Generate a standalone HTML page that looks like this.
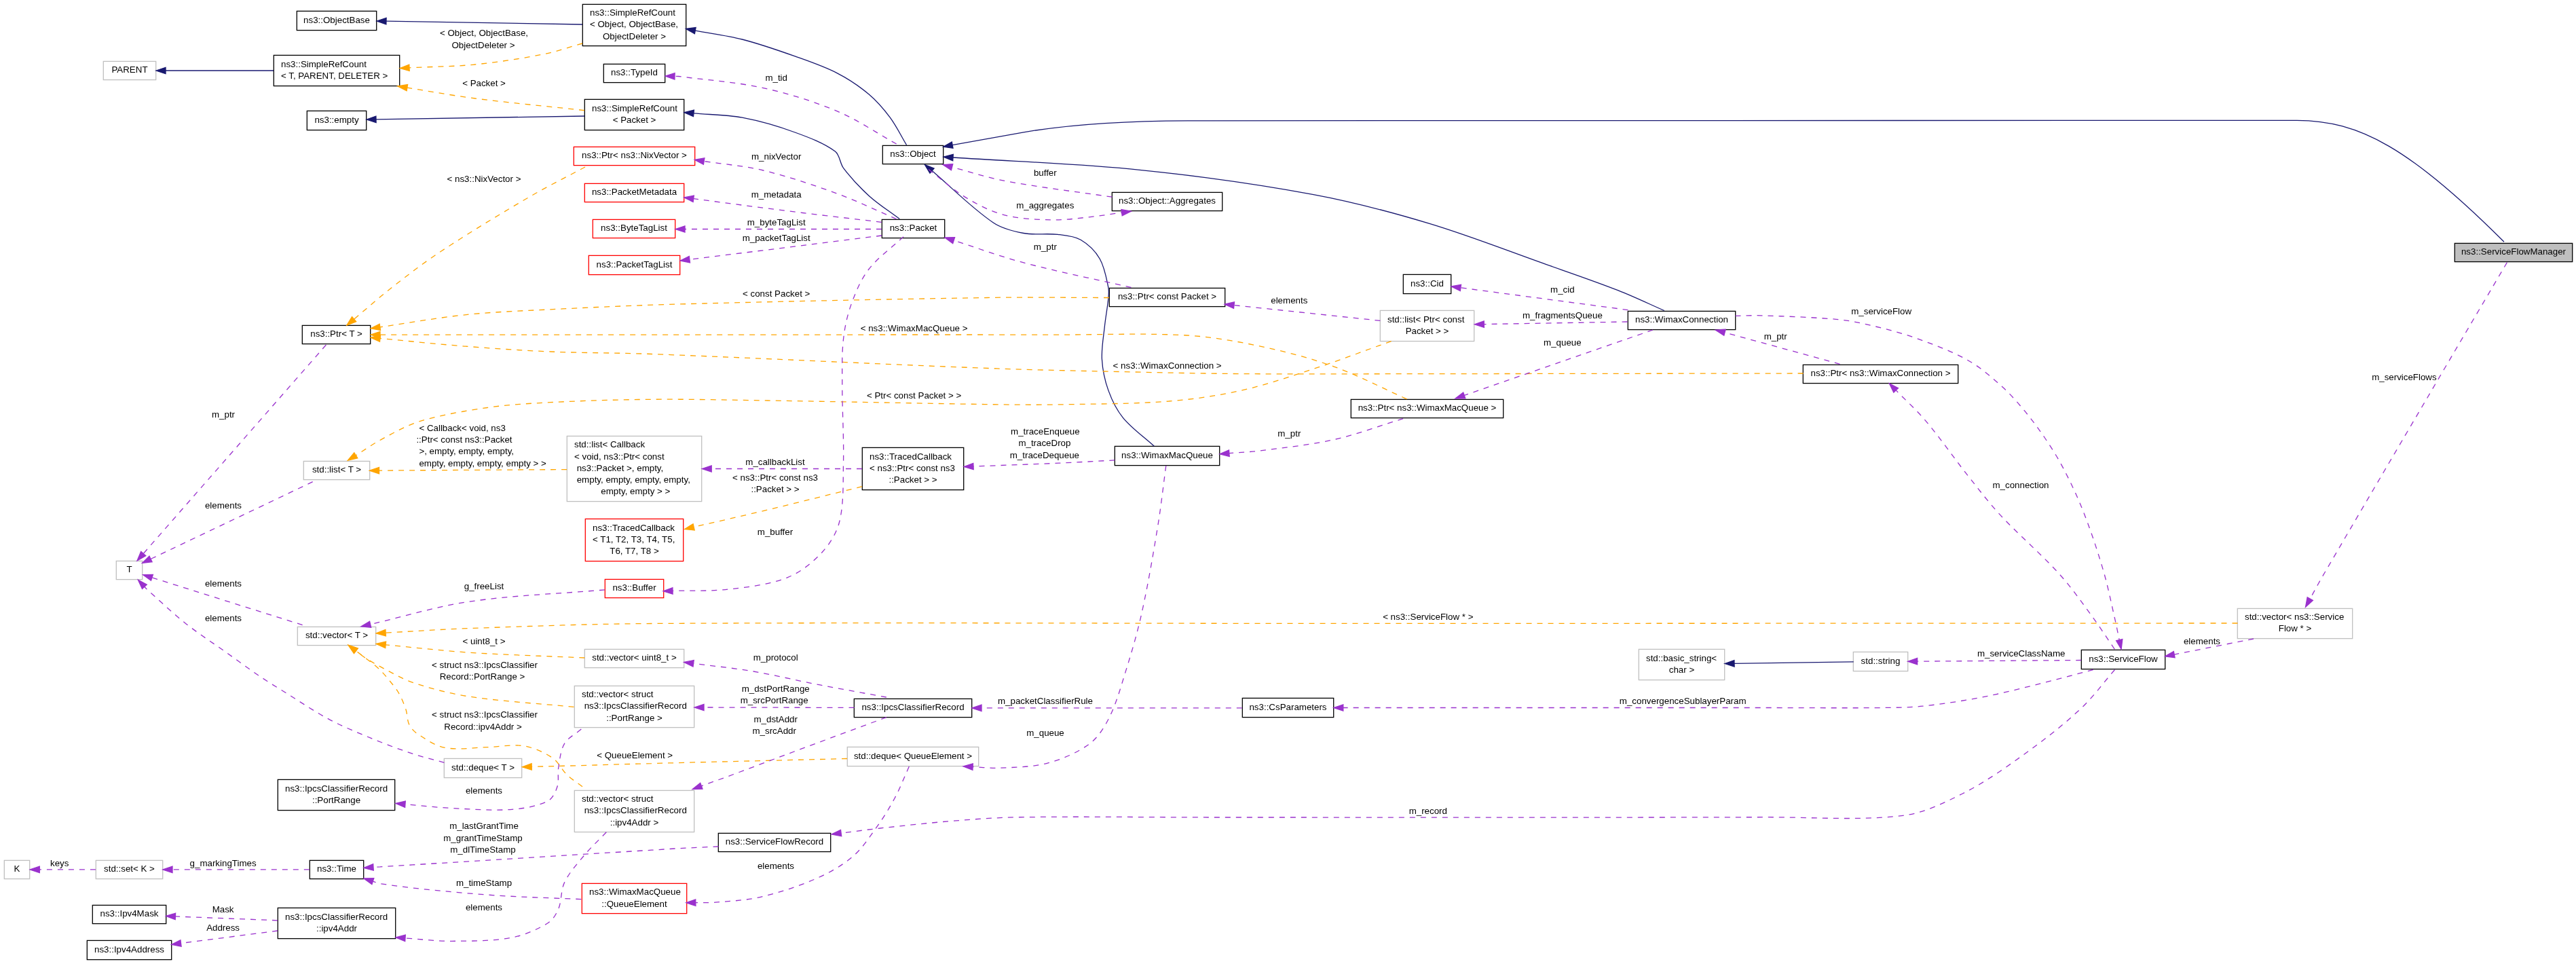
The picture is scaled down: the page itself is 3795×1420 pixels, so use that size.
<!DOCTYPE html><html><head><meta charset="utf-8"><style>html,body{margin:0;padding:0;background:#fff;width:3795px;height:1420px;overflow:hidden}svg{display:block;will-change:transform}text{font-family:"Liberation Sans",sans-serif;font-size:13.33px;fill:#000;white-space:pre}</style></head><body>
<svg width="3795" height="1420" viewBox="0 0 3795 1420">
<rect width="3795" height="1420" fill="#fff"/>
<rect x="437.3" y="16.4" width="117.4" height="28.2" fill="#fff" stroke="#000000" stroke-width="1.3"/>
<text x="496.0" y="33.8" text-anchor="middle">ns3::ObjectBase</text>
<rect x="152.3" y="90.4" width="77.4" height="27.2" fill="#fff" stroke="#bfbfbf" stroke-width="1.3"/>
<text x="191.0" y="107.3" text-anchor="middle">PARENT</text>
<rect x="403.3" y="81.4" width="185.4" height="45.2" fill="#fff" stroke="#000000" stroke-width="1.3"/>
<text x="414.0" y="98.6">ns3::SimpleRefCount</text>
<text x="414.0" y="116.0">&lt; T, PARENT, DELETER &gt;</text>
<rect x="452.3" y="163.4" width="87.4" height="28.2" fill="#fff" stroke="#000000" stroke-width="1.3"/>
<text x="496.0" y="180.8" text-anchor="middle">ns3::empty</text>
<rect x="858.3" y="6.4" width="152.4" height="61.2" fill="#fff" stroke="#000000" stroke-width="1.3"/>
<text x="869.0" y="23.0">ns3::SimpleRefCount</text>
<text x="869.0" y="40.3">&lt; Object, ObjectBase,</text>
<text x="934.5" y="57.6" text-anchor="middle">ObjectDeleter &gt;</text>
<rect x="889.3" y="94.4" width="90.4" height="27.2" fill="#fff" stroke="#000000" stroke-width="1.3"/>
<text x="934.5" y="111.3" text-anchor="middle">ns3::TypeId</text>
<rect x="861.3" y="146.4" width="146.4" height="45.2" fill="#fff" stroke="#000000" stroke-width="1.3"/>
<text x="872.0" y="163.7">ns3::SimpleRefCount</text>
<text x="934.5" y="181.0" text-anchor="middle">&lt; Packet &gt;</text>
<rect x="845.3" y="216.4" width="178.4" height="27.2" fill="#fff" stroke="#ff0000" stroke-width="1.3"/>
<text x="934.5" y="233.3" text-anchor="middle">ns3::Ptr&lt; ns3::NixVector &gt;</text>
<rect x="861.3" y="270.4" width="146.4" height="27.2" fill="#fff" stroke="#ff0000" stroke-width="1.3"/>
<text x="934.5" y="287.3" text-anchor="middle">ns3::PacketMetadata</text>
<rect x="873.3" y="323.4" width="121.4" height="27.2" fill="#fff" stroke="#ff0000" stroke-width="1.3"/>
<text x="934.0" y="340.3" text-anchor="middle">ns3::ByteTagList</text>
<rect x="867.3" y="376.4" width="134.4" height="28.2" fill="#fff" stroke="#ff0000" stroke-width="1.3"/>
<text x="934.5" y="393.8" text-anchor="middle">ns3::PacketTagList</text>
<rect x="1300.3" y="214.4" width="89.4" height="27.2" fill="#fff" stroke="#000000" stroke-width="1.3"/>
<text x="1345.0" y="231.3" text-anchor="middle">ns3::Object</text>
<rect x="1299.3" y="323.4" width="92.4" height="27.2" fill="#fff" stroke="#000000" stroke-width="1.3"/>
<text x="1345.5" y="340.3" text-anchor="middle">ns3::Packet</text>
<rect x="1638.3" y="283.4" width="162.4" height="27.2" fill="#fff" stroke="#000000" stroke-width="1.3"/>
<text x="1719.5" y="300.3" text-anchor="middle">ns3::Object::Aggregates</text>
<rect x="1634.3" y="424.4" width="170.4" height="27.2" fill="#fff" stroke="#000000" stroke-width="1.3"/>
<text x="1719.5" y="441.3" text-anchor="middle">ns3::Ptr&lt; const Packet &gt;</text>
<rect x="2067.3" y="404.4" width="70.4" height="28.2" fill="#fff" stroke="#000000" stroke-width="1.3"/>
<text x="2102.5" y="421.8" text-anchor="middle">ns3::Cid</text>
<rect x="2033.3" y="457.4" width="138.4" height="45.2" fill="#fff" stroke="#bfbfbf" stroke-width="1.3"/>
<text x="2044.0" y="474.7">std::list&lt; Ptr&lt; const</text>
<text x="2102.5" y="491.9" text-anchor="middle">Packet &gt; &gt;</text>
<rect x="2398.3" y="458.4" width="158.4" height="27.2" fill="#fff" stroke="#000000" stroke-width="1.3"/>
<text x="2477.5" y="475.3" text-anchor="middle">ns3::WimaxConnection</text>
<rect x="1990.3" y="588.4" width="224.4" height="27.2" fill="#fff" stroke="#000000" stroke-width="1.3"/>
<text x="2102.5" y="605.3" text-anchor="middle">ns3::Ptr&lt; ns3::WimaxMacQueue &gt;</text>
<rect x="2656.3" y="537.4" width="228.4" height="27.2" fill="#fff" stroke="#000000" stroke-width="1.3"/>
<text x="2770.5" y="554.3" text-anchor="middle">ns3::Ptr&lt; ns3::WimaxConnection &gt;</text>
<rect x="3616.3" y="358.4" width="173.4" height="27.2" fill="#bfbfbf" stroke="#000000" stroke-width="1.3"/>
<text x="3703.0" y="375.3" text-anchor="middle">ns3::ServiceFlowManager</text>
<rect x="445.3" y="479.4" width="100.4" height="27.2" fill="#fff" stroke="#000000" stroke-width="1.3"/>
<text x="495.5" y="496.3" text-anchor="middle">ns3::Ptr&lt; T &gt;</text>
<rect x="447.3" y="679.4" width="97.4" height="27.2" fill="#fff" stroke="#bfbfbf" stroke-width="1.3"/>
<text x="496.0" y="696.3" text-anchor="middle">std::list&lt; T &gt;</text>
<rect x="171.3" y="826.4" width="38.4" height="27.2" fill="#fff" stroke="#bfbfbf" stroke-width="1.3"/>
<text x="190.5" y="843.3" text-anchor="middle">T</text>
<rect x="835.3" y="642.4" width="198.4" height="96.2" fill="#fff" stroke="#bfbfbf" stroke-width="1.3"/>
<text x="846.0" y="659.2">std::list&lt; Callback</text>
<text x="846.0" y="676.5">&lt; void, ns3::Ptr&lt; const</text>
<text x="846.0" y="693.8"> ns3::Packet &gt;, empty,</text>
<text x="846.0" y="711.1"> empty, empty, empty, empty,</text>
<text x="934.5" y="728.4" text-anchor="middle"> empty, empty &gt; &gt;</text>
<rect x="862.3" y="764.4" width="144.4" height="62.2" fill="#fff" stroke="#ff0000" stroke-width="1.3"/>
<text x="873.0" y="781.5">ns3::TracedCallback</text>
<text x="873.0" y="798.8">&lt; T1, T2, T3, T4, T5,</text>
<text x="934.5" y="816.1" text-anchor="middle">T6, T7, T8 &gt;</text>
<rect x="891.3" y="853.4" width="86.4" height="27.2" fill="#fff" stroke="#ff0000" stroke-width="1.3"/>
<text x="934.5" y="870.3" text-anchor="middle">ns3::Buffer</text>
<rect x="1270.3" y="659.4" width="149.4" height="62.2" fill="#fff" stroke="#000000" stroke-width="1.3"/>
<text x="1281.0" y="676.5">ns3::TracedCallback</text>
<text x="1281.0" y="693.8">&lt; ns3::Ptr&lt; const ns3</text>
<text x="1345.0" y="711.1" text-anchor="middle">::Packet &gt; &gt;</text>
<rect x="1642.3" y="657.4" width="154.4" height="28.2" fill="#fff" stroke="#000000" stroke-width="1.3"/>
<text x="1719.5" y="674.8" text-anchor="middle">ns3::WimaxMacQueue</text>
<rect x="438.3" y="923.4" width="115.4" height="27.2" fill="#fff" stroke="#bfbfbf" stroke-width="1.3"/>
<text x="496.0" y="940.3" text-anchor="middle">std::vector&lt; T &gt;</text>
<rect x="861.3" y="956.4" width="146.4" height="27.2" fill="#fff" stroke="#bfbfbf" stroke-width="1.3"/>
<text x="934.5" y="973.3" text-anchor="middle">std::vector&lt; uint8_t &gt;</text>
<rect x="846.3" y="1010.4" width="176.4" height="61.2" fill="#fff" stroke="#bfbfbf" stroke-width="1.3"/>
<text x="857.0" y="1027.0">std::vector&lt; struct</text>
<text x="857.0" y="1044.3"> ns3::IpcsClassifierRecord</text>
<text x="934.5" y="1061.6" text-anchor="middle">::PortRange &gt;</text>
<rect x="654.3" y="1117.4" width="114.4" height="28.2" fill="#fff" stroke="#bfbfbf" stroke-width="1.3"/>
<text x="711.5" y="1134.8" text-anchor="middle">std::deque&lt; T &gt;</text>
<rect x="409.3" y="1148.4" width="172.4" height="45.2" fill="#fff" stroke="#000000" stroke-width="1.3"/>
<text x="420.0" y="1165.6">ns3::IpcsClassifierRecord</text>
<text x="495.5" y="1183.0" text-anchor="middle">::PortRange</text>
<rect x="846.3" y="1164.4" width="176.4" height="61.2" fill="#fff" stroke="#bfbfbf" stroke-width="1.3"/>
<text x="857.0" y="1181.0">std::vector&lt; struct</text>
<text x="857.0" y="1198.3"> ns3::IpcsClassifierRecord</text>
<text x="934.5" y="1215.6" text-anchor="middle">::ipv4Addr &gt;</text>
<rect x="6.3" y="1267.4" width="37.4" height="27.2" fill="#fff" stroke="#bfbfbf" stroke-width="1.3"/>
<text x="25.0" y="1284.3" text-anchor="middle">K</text>
<rect x="141.3" y="1267.4" width="98.4" height="27.2" fill="#fff" stroke="#bfbfbf" stroke-width="1.3"/>
<text x="190.5" y="1284.3" text-anchor="middle">std::set&lt; K &gt;</text>
<rect x="456.3" y="1267.4" width="79.4" height="27.2" fill="#fff" stroke="#000000" stroke-width="1.3"/>
<text x="496.0" y="1284.3" text-anchor="middle">ns3::Time</text>
<rect x="857.3" y="1301.4" width="154.4" height="44.2" fill="#fff" stroke="#ff0000" stroke-width="1.3"/>
<text x="868.0" y="1318.1">ns3::WimaxMacQueue</text>
<text x="934.5" y="1335.5" text-anchor="middle">::QueueElement</text>
<rect x="136.3" y="1333.4" width="108.4" height="27.2" fill="#fff" stroke="#000000" stroke-width="1.3"/>
<text x="190.5" y="1350.3" text-anchor="middle">ns3::Ipv4Mask</text>
<rect x="409.3" y="1337.4" width="173.4" height="45.2" fill="#fff" stroke="#000000" stroke-width="1.3"/>
<text x="420.0" y="1354.6">ns3::IpcsClassifierRecord</text>
<text x="496.0" y="1372.0" text-anchor="middle">::ipv4Addr</text>
<rect x="128.3" y="1385.4" width="124.4" height="28.2" fill="#fff" stroke="#000000" stroke-width="1.3"/>
<text x="190.5" y="1402.8" text-anchor="middle">ns3::Ipv4Address</text>
<rect x="1258.3" y="1029.4" width="173.4" height="27.2" fill="#fff" stroke="#000000" stroke-width="1.3"/>
<text x="1345.0" y="1046.3" text-anchor="middle">ns3::IpcsClassifierRecord</text>
<rect x="1248.3" y="1100.4" width="193.4" height="28.2" fill="#fff" stroke="#bfbfbf" stroke-width="1.3"/>
<text x="1345.0" y="1117.8" text-anchor="middle">std::deque&lt; QueueElement &gt;</text>
<rect x="1058.3" y="1227.4" width="165.4" height="27.2" fill="#fff" stroke="#000000" stroke-width="1.3"/>
<text x="1141.0" y="1244.3" text-anchor="middle">ns3::ServiceFlowRecord</text>
<rect x="2414.3" y="956.4" width="126.4" height="45.2" fill="#fff" stroke="#bfbfbf" stroke-width="1.3"/>
<text x="2425.0" y="973.6">std::basic_string&lt;</text>
<text x="2477.5" y="990.9" text-anchor="middle">char &gt;</text>
<rect x="1830.3" y="1028.4" width="134.4" height="28.2" fill="#fff" stroke="#000000" stroke-width="1.3"/>
<text x="1897.5" y="1045.8" text-anchor="middle">ns3::CsParameters</text>
<rect x="2730.3" y="960.4" width="80.4" height="28.2" fill="#fff" stroke="#bfbfbf" stroke-width="1.3"/>
<text x="2770.5" y="977.8" text-anchor="middle">std::string</text>
<rect x="3296.3" y="896.4" width="169.4" height="44.2" fill="#fff" stroke="#bfbfbf" stroke-width="1.3"/>
<text x="3307.0" y="913.1">std::vector&lt; ns3::Service</text>
<text x="3381.0" y="930.4" text-anchor="middle">Flow * &gt;</text>
<rect x="3066.3" y="957.4" width="123.4" height="28.2" fill="#fff" stroke="#000000" stroke-width="1.3"/>
<text x="3128.0" y="974.8" text-anchor="middle">ns3::ServiceFlow</text>
<path d="M858.0,36.0 L569.0,31.2" fill="none" stroke="#191970" stroke-width="1.3"/>
<polygon points="555.0,31.0 569.1,26.5 568.9,35.9" fill="#191970" stroke="#191970" stroke-width="1.3"/>
<path d="M403.0,104.0 L244.0,104.0" fill="none" stroke="#191970" stroke-width="1.3"/>
<polygon points="230.0,104.0 244.0,99.3 244.0,108.7" fill="#191970" stroke="#191970" stroke-width="1.3"/>
<path d="M861.0,171.0 L554.0,175.8" fill="none" stroke="#191970" stroke-width="1.3"/>
<polygon points="540.0,176.0 553.9,171.1 554.1,180.5" fill="#191970" stroke="#191970" stroke-width="1.3"/>
<path d="M1335.6,213.7 C1327.5,200.2 1320.6,185.8 1311.3,173.2 C1302.2,160.9 1291.9,148.8 1280.2,139.0 C1266.0,127.0 1250.1,116.3 1233.5,107.8 C1213.7,97.6 1192.3,90.4 1171.2,82.9 C1145.6,73.8 1119.7,64.8 1093.4,58.0 C1070.7,52.2 1047.3,49.4 1024.3,45.1" fill="none" stroke="#191970" stroke-width="1.3"/>
<polygon points="1010.5,42.5 1025.1,40.5 1023.4,49.7" fill="#191970" stroke="#191970" stroke-width="1.3"/>
<path d="M1325.3,322.6 C1310.3,311.2 1294.1,301.0 1280.2,288.4 C1266.6,276.1 1253.8,262.4 1242.8,247.9 C1237.2,240.6 1237.5,228.3 1230.4,223.0 C1213.6,210.6 1191.6,202.4 1171.2,195.0 C1146.0,185.8 1119.8,178.2 1093.4,173.2 C1070.0,168.8 1045.8,169.0 1021.9,166.9" fill="none" stroke="#191970" stroke-width="1.3"/>
<polygon points="1008.0,165.7 1022.4,162.2 1021.5,171.6" fill="#191970" stroke="#191970" stroke-width="1.3"/>
<path d="M3689,356.3 C3551.7,219 3475.8,177.3 3383.6,177.3 L1750,177.8 C1640,178 1560,186 1508,194.8 L1403.2,213.7" fill="none" stroke="#191970" stroke-width="1.3"/>
<polygon points="1389.4,216.2 1402.3,209.1 1404.0,218.3" fill="#191970" stroke="#191970" stroke-width="1.3"/>
<path d="M2451.8,457.5 C2429.0,447.5 2406.6,436.6 2383.5,427.6 C2348.3,413.8 2312.4,401.7 2276.8,389.1 C2219.9,369.0 2163.7,346.7 2106.0,329.4 C2049.8,312.5 1992.7,297.3 1935.0,286.6 C1850.4,270.9 1764.7,259.1 1679.0,250.3 C1587.7,240.9 1495.6,238.1 1404.0,232.0" fill="none" stroke="#191970" stroke-width="1.3"/>
<polygon points="1390.0,231.1 1404.3,227.3 1403.7,236.7" fill="#191970" stroke="#191970" stroke-width="1.3"/>
<path d="M1700.3,657.2 C1685.0,643.2 1667.4,631.1 1654.4,615.3 C1644.9,603.7 1637.9,589.1 1632.8,574.9 C1627.6,560.4 1624.3,544.4 1623.4,529.0 C1622.5,513.0 1625.7,496.6 1627.4,480.5 C1628.8,467.0 1631.5,453.5 1632.8,440.0 C1633.3,434.5 1634.0,428.7 1632.8,423.3 C1629.8,409.1 1627.3,393.6 1620.2,381.3 C1613.8,370.2 1603.1,359.7 1592.1,353.3 C1582.5,347.7 1569.9,346.7 1558.5,345.4 C1541.8,343.5 1524.4,346.5 1508.0,343.5 C1492.7,340.7 1476.2,336.8 1463.3,328.0 C1431.2,306.1 1403.2,277.1 1373.1,251.6" fill="none" stroke="#191970" stroke-width="1.3"/>
<polygon points="1362.4,242.6 1376.1,248.1 1370.0,255.2" fill="#191970" stroke="#191970" stroke-width="1.3"/>
<path d="M2730.7,974.9 L2555.0,977.3" fill="none" stroke="#191970" stroke-width="1.3"/>
<polygon points="2541.0,977.5 2554.9,972.6 2555.1,982.0" fill="#191970" stroke="#191970" stroke-width="1.3"/>
<path d="M858.0,64.0 C838.7,69.3 819.6,76.1 800.0,80.0 C767.0,86.5 733.5,91.6 700.0,95.0 C667.8,98.2 635.3,98.2 603.0,99.8" fill="none" stroke="#ffa500" stroke-width="1.3" stroke-dasharray="8,8"/>
<polygon points="589.0,100.5 602.8,95.1 603.2,104.5" fill="#ffa500" stroke="#ffa500" stroke-width="1.3"/>
<path d="M861.0,162.6 C807.3,156.7 753.5,151.8 700.0,145.0 C666.5,140.7 633.2,134.5 599.8,129.2" fill="none" stroke="#ffa500" stroke-width="1.3" stroke-dasharray="8,8"/>
<polygon points="586.0,127.0 600.6,124.5 599.1,133.8" fill="#ffa500" stroke="#ffa500" stroke-width="1.3"/>
<path d="M862.0,246.0 C834.7,260.7 806.8,274.3 780.0,290.0 C736.1,315.7 692.5,342.0 650.0,370.0 C625.1,386.4 601.3,404.7 577.8,423.1 C558.6,438.1 540.4,454.4 521.6,470.1" fill="none" stroke="#ffa500" stroke-width="1.3" stroke-dasharray="8,8"/>
<polygon points="510.9,479.1 518.6,466.5 524.7,473.7" fill="#ffa500" stroke="#ffa500" stroke-width="1.3"/>
<path d="M1634.0,438.5 C1576.0,438.5 1518.0,437.5 1460.0,438.4 C1306.7,440.7 1153.3,443.9 1000.0,448.0 C937.0,449.7 874.0,452.7 811.0,455.8 C769.5,457.9 728.0,459.3 686.7,463.6 C644.2,468.0 602.1,475.7 559.9,481.8" fill="none" stroke="#ffa500" stroke-width="1.3" stroke-dasharray="8,8"/>
<polygon points="546.0,483.8 559.2,477.2 560.5,486.5" fill="#ffa500" stroke="#ffa500" stroke-width="1.3"/>
<path d="M2072.5,587.8 C2036.5,571.8 2001.5,553.1 1964.6,539.8 C1929.6,527.2 1893.1,517.8 1856.7,510.1 C1821.2,502.6 1785.0,496.1 1748.8,494.0 C1686.1,490.4 1622.9,493.2 1560.0,493.1 C1373.3,492.9 1186.7,493.1 1000.0,493.1 C853.3,493.1 706.7,493.1 560.0,493.1" fill="none" stroke="#ffa500" stroke-width="1.3" stroke-dasharray="8,8"/>
<polygon points="546.0,493.1 560.0,488.4 560.0,497.8" fill="#ffa500" stroke="#ffa500" stroke-width="1.3"/>
<path d="M2656.6,550.0 C2471.1,550.2 2285.5,550.5 2100.0,550.6 C2009.9,550.7 1919.9,551.2 1829.8,550.6 C1775.8,550.3 1721.9,549.1 1667.9,547.9 C1598.6,546.4 1529.3,545.2 1460.0,542.6 C1293.3,536.4 1126.7,527.8 960.0,521.5 C910.4,519.6 860.6,520.1 811.0,518.0 C769.5,516.3 728.1,513.4 686.7,510.2 C644.4,506.9 602.2,502.4 559.9,498.5" fill="none" stroke="#ffa500" stroke-width="1.3" stroke-dasharray="8,8"/>
<polygon points="546.0,497.2 560.4,493.8 559.5,503.2" fill="#ffa500" stroke="#ffa500" stroke-width="1.3"/>
<path d="M2049.6,502.6 C2012.3,515.9 1975.3,530.1 1937.7,542.5 C1902.0,554.2 1866.3,566.7 1829.8,574.9 C1794.4,582.9 1758.1,588.2 1721.9,591.0 C1668.2,595.2 1614.0,594.9 1560.0,595.9 C1526.7,596.5 1493.3,596.2 1460.0,595.7 C1350.3,594.2 1240.7,591.6 1131.0,590.0 C1074.0,589.2 1017.0,587.8 960.0,588.3 C910.3,588.7 860.6,590.2 811.0,592.7 C779.9,594.3 748.6,596.0 717.8,600.5 C684.3,605.4 650.4,611.0 618.2,620.7 C598.6,626.6 580.4,637.4 562.2,647.1 C549.1,654.1 536.9,662.9 524.3,670.8" fill="none" stroke="#ffa500" stroke-width="1.3" stroke-dasharray="8,8"/>
<polygon points="512.4,678.2 521.8,666.8 526.8,674.8" fill="#ffa500" stroke="#ffa500" stroke-width="1.3"/>
<path d="M835.1,691.6 L558.5,693.1" fill="none" stroke="#ffa500" stroke-width="1.3" stroke-dasharray="8,8"/>
<polygon points="544.5,693.2 558.5,688.4 558.5,697.8" fill="#ffa500" stroke="#ffa500" stroke-width="1.3"/>
<path d="M1270.0,716.7 C1223.7,728.1 1177.4,739.8 1131.0,751.0 C1094.8,759.7 1058.4,767.9 1022.1,776.3" fill="none" stroke="#ffa500" stroke-width="1.3" stroke-dasharray="8,8"/>
<polygon points="1008.5,779.5 1021.1,771.7 1023.2,780.9" fill="#ffa500" stroke="#ffa500" stroke-width="1.3"/>
<path d="M3296.5,918.0 C2864.3,918.1 2432.2,918.3 2000.0,918.4 C1653.3,918.5 1306.6,916.6 960.0,918.5 C870.0,919.0 780.0,922.5 690.0,925.6 C649.4,927.0 608.8,930.0 568.2,932.1" fill="none" stroke="#ffa500" stroke-width="1.3" stroke-dasharray="8,8"/>
<polygon points="554.2,932.9 567.9,927.5 568.4,936.8" fill="#ffa500" stroke="#ffa500" stroke-width="1.3"/>
<path d="M861.3,969.0 C804.2,966.4 747.0,964.8 690.0,961.1 C649.3,958.4 608.8,953.6 568.1,949.8" fill="none" stroke="#ffa500" stroke-width="1.3" stroke-dasharray="8,8"/>
<polygon points="554.2,948.5 568.6,945.1 567.7,954.5" fill="#ffa500" stroke="#ffa500" stroke-width="1.3"/>
<path d="M845.5,1041.4 C793.7,1036.2 741.4,1033.6 690.0,1025.8 C662.6,1021.7 635.3,1014.4 609.0,1005.7 C593.8,1000.7 579.8,992.2 565.5,984.8 C556.1,979.9 546.9,974.7 538.0,969.0 C533.2,966.0 528.9,962.2 524.4,958.7" fill="none" stroke="#ffa500" stroke-width="1.3" stroke-dasharray="8,8"/>
<polygon points="513.2,950.3 527.2,955.0 521.5,962.5" fill="#ffa500" stroke="#ffa500" stroke-width="1.3"/>
<path d="M858.0,1158.8 C850.4,1152.9 842.0,1147.8 835.1,1141.1 C827.3,1133.6 822.8,1122.2 814.0,1116.4 C801.6,1108.1 786.4,1101.2 771.6,1098.8 C754.6,1096.0 736.3,1100.2 718.7,1100.6 C697.7,1101.1 675.7,1105.2 655.6,1101.4 C641.2,1098.7 627.7,1089.2 615.2,1081.1 C610.0,1077.7 605.3,1072.6 602.7,1067.1 C599.6,1060.6 600.3,1052.3 598.0,1045.3 C595.2,1036.8 591.6,1028.3 587.2,1020.5 C583.9,1014.6 579.3,1009.3 575.0,1004.0 C569.6,997.4 564.2,990.8 558.0,985.0 C551.8,979.2 544.7,974.3 538.0,969.0 C533.5,965.5 528.9,962.2 524.4,958.7" fill="none" stroke="#ffa500" stroke-width="1.3" stroke-dasharray="8,8"/>
<polygon points="513.2,950.3 527.2,955.0 521.5,962.5" fill="#ffa500" stroke="#ffa500" stroke-width="1.3"/>
<path d="M1248.0,1117.5 C1152.0,1119.9 1056.0,1122.1 960.0,1124.6 C932.5,1125.3 905.0,1126.2 877.5,1127.0 C846.1,1127.9 814.6,1128.6 783.2,1129.4" fill="none" stroke="#ffa500" stroke-width="1.3" stroke-dasharray="8,8"/>
<polygon points="769.2,1129.8 783.1,1124.7 783.3,1134.1" fill="#ffa500" stroke="#ffa500" stroke-width="1.3"/>
<path d="M1320.6,212.0 C1291.6,196.0 1263.9,176.7 1233.5,163.9 C1198.6,149.2 1161.6,137.8 1124.5,129.6 C1083.7,120.6 1041.5,118.0 1000.0,112.5 C998.0,112.2 996.0,112.4 994.0,112.3" fill="none" stroke="#9a32cd" stroke-width="1.3" stroke-dasharray="8,8"/>
<polygon points="980.0,112.0 994.1,107.7 993.9,117.0" fill="#9a32cd" stroke="#9a32cd" stroke-width="1.3"/>
<path d="M1320.6,322.6 C1291.6,310.2 1263.1,296.1 1233.5,285.3 C1197.8,272.3 1161.4,260.0 1124.5,251.0 C1096.0,244.1 1066.3,242.0 1037.1,237.5" fill="none" stroke="#9a32cd" stroke-width="1.3" stroke-dasharray="8,8"/>
<polygon points="1023.3,235.4 1037.9,232.9 1036.4,242.2" fill="#9a32cd" stroke="#9a32cd" stroke-width="1.3"/>
<path d="M1298.8,327.3 C1251.1,321.6 1203.3,316.2 1155.6,310.2 C1110.9,304.6 1066.3,298.5 1021.7,292.7" fill="none" stroke="#9a32cd" stroke-width="1.3" stroke-dasharray="8,8"/>
<polygon points="1007.8,290.9 1022.3,288.1 1021.1,297.4" fill="#9a32cd" stroke="#9a32cd" stroke-width="1.3"/>
<path d="M1299.0,337.5 L1009.0,337.5" fill="none" stroke="#9a32cd" stroke-width="1.3" stroke-dasharray="8,8"/>
<polygon points="995.0,337.5 1009.0,332.8 1009.0,342.2" fill="#9a32cd" stroke="#9a32cd" stroke-width="1.3"/>
<path d="M1299.0,347.0 L1015.9,382.3" fill="none" stroke="#9a32cd" stroke-width="1.3" stroke-dasharray="8,8"/>
<polygon points="1002.0,384.0 1015.3,377.6 1016.5,386.9" fill="#9a32cd" stroke="#9a32cd" stroke-width="1.3"/>
<path d="M1638.4,290.2 C1585.6,282.3 1532.4,276.2 1480.0,266.4 C1453.8,261.5 1428.4,252.9 1402.5,246.1" fill="none" stroke="#9a32cd" stroke-width="1.3" stroke-dasharray="8,8"/>
<polygon points="1389.0,242.6 1403.7,241.6 1401.4,250.7" fill="#9a32cd" stroke="#9a32cd" stroke-width="1.3"/>
<path d="M1368.0,249.6 C1386.7,263.6 1404.1,279.7 1424.0,291.6 C1441.4,302.1 1460.4,311.8 1480.0,316.8 C1502.4,322.5 1526.6,323.4 1550.0,323.9 C1568.6,324.3 1587.4,321.6 1606.0,319.6 C1621.6,318.0 1637.0,315.3 1652.5,313.1" fill="none" stroke="#9a32cd" stroke-width="1.3" stroke-dasharray="8,8"/>
<polygon points="1666.4,311.2 1653.2,317.8 1651.9,308.5" fill="#9a32cd" stroke="#9a32cd" stroke-width="1.3"/>
<path d="M1666.4,423.3 C1613.6,411.2 1560.3,400.8 1508.0,386.9 C1473.2,377.7 1439.4,365.1 1405.1,354.1" fill="none" stroke="#9a32cd" stroke-width="1.3" stroke-dasharray="8,8"/>
<polygon points="1391.8,349.9 1406.6,349.7 1403.7,358.6" fill="#9a32cd" stroke="#9a32cd" stroke-width="1.3"/>
<path d="M1331.0,348.6 C1313.9,364.7 1293.8,378.7 1279.6,397.0 C1268.1,411.9 1260.5,430.5 1254.0,448.4 C1248.1,464.8 1244.4,482.4 1242.5,499.8 C1240.0,522.4 1240.8,545.5 1240.8,568.3 C1240.8,606.4 1243.3,644.5 1242.5,682.5 C1241.9,711.0 1243.3,740.9 1236.8,768.0 C1232.8,784.6 1222.6,801.2 1211.0,813.7 C1197.0,828.8 1179.0,843.2 1159.8,850.8 C1133.3,861.3 1102.9,864.6 1074.0,868.0 C1046.6,871.2 1018.7,869.6 991.0,870.4" fill="none" stroke="#9a32cd" stroke-width="1.3" stroke-dasharray="8,8"/>
<polygon points="977.0,870.8 990.9,865.7 991.1,875.1" fill="#9a32cd" stroke="#9a32cd" stroke-width="1.3"/>
<path d="M2398.5,456.6 L2151.9,423.8" fill="none" stroke="#9a32cd" stroke-width="1.3" stroke-dasharray="8,8"/>
<polygon points="2138.0,422.0 2152.5,419.2 2151.3,428.5" fill="#9a32cd" stroke="#9a32cd" stroke-width="1.3"/>
<path d="M2033.4,472.4 L1818.0,449.6" fill="none" stroke="#9a32cd" stroke-width="1.3" stroke-dasharray="8,8"/>
<polygon points="1804.1,448.1 1818.5,444.9 1817.5,454.2" fill="#9a32cd" stroke="#9a32cd" stroke-width="1.3"/>
<path d="M2397.5,474.0 L2186.3,477.6" fill="none" stroke="#9a32cd" stroke-width="1.3" stroke-dasharray="8,8"/>
<polygon points="2172.3,477.8 2186.2,472.9 2186.4,482.3" fill="#9a32cd" stroke="#9a32cd" stroke-width="1.3"/>
<path d="M2435.0,486.0 L2157.2,582.4" fill="none" stroke="#9a32cd" stroke-width="1.3" stroke-dasharray="8,8"/>
<polygon points="2144.0,587.0 2155.7,578.0 2158.8,586.8" fill="#9a32cd" stroke="#9a32cd" stroke-width="1.3"/>
<path d="M2710.5,536.3 C2653.7,520.7 2596.1,504.9 2540.0,489.5 C2539.7,489.4 2540.7,489.7 2541.0,489.8" fill="none" stroke="#9a32cd" stroke-width="1.3" stroke-dasharray="8,8"/>
<polygon points="2527.5,486.2 2542.2,485.2 2539.8,494.3" fill="#9a32cd" stroke="#9a32cd" stroke-width="1.3"/>
<path d="M2067.1,616.7 C2032.9,627.0 1999.3,639.9 1964.6,647.7 C1929.2,655.6 1892.8,659.2 1856.7,663.9 C1841.5,665.9 1826.1,666.4 1810.9,667.7" fill="none" stroke="#9a32cd" stroke-width="1.3" stroke-dasharray="8,8"/>
<polygon points="1796.9,668.8 1810.5,663.0 1811.2,672.3" fill="#9a32cd" stroke="#9a32cd" stroke-width="1.3"/>
<path d="M2556.5,465.3 C2569.3,465.1 2582.2,464.4 2595.0,464.8 C2631.7,466.0 2668.5,467.2 2705.0,470.3 C2720.1,471.6 2735.2,474.3 2750.0,477.8 C2774.4,483.6 2799.0,489.7 2822.6,498.1 C2849.0,507.5 2875.8,517.5 2900.0,531.2 C2918.2,541.4 2934.2,555.8 2949.8,569.8 C2961.6,580.3 2972.0,592.5 2982.2,604.7 C2992.8,617.4 3002.8,630.8 3012.1,644.5 C3021.9,659.0 3031.4,673.9 3039.5,689.4 C3050.5,710.4 3060.7,732.0 3069.4,754.1 C3080.4,782.2 3090.0,811.0 3098.5,840.0 C3105.3,863.0 3109.9,886.6 3115.3,910.0 C3117.8,920.8 3119.9,931.7 3122.2,942.6" fill="none" stroke="#9a32cd" stroke-width="1.3" stroke-dasharray="8,8"/>
<polygon points="3125.1,956.3 3117.6,943.6 3126.8,941.6" fill="#9a32cd" stroke="#9a32cd" stroke-width="1.3"/>
<path d="M3115.3,956.3 C3104.1,940.0 3093.4,923.3 3081.7,907.3 C3066.3,886.4 3051.4,864.9 3034.0,845.7 C3006.6,815.5 2975.1,789.0 2947.3,759.1 C2930.4,741.0 2915.4,721.2 2900.0,701.8 C2878.7,674.9 2859.2,646.3 2837.1,620.1 C2823.6,604.1 2807.8,590.0 2793.2,574.9" fill="none" stroke="#9a32cd" stroke-width="1.3" stroke-dasharray="8,8"/>
<polygon points="2783.4,564.9 2796.5,571.7 2789.8,578.2" fill="#9a32cd" stroke="#9a32cd" stroke-width="1.3"/>
<path d="M3693.4,386.6 C3662.3,439.4 3631.1,492.2 3600.0,545.0 C3540.3,646.6 3480.4,748.2 3421.0,850.0 C3414.8,860.5 3409.2,871.4 3403.3,882.0" fill="none" stroke="#9a32cd" stroke-width="1.3" stroke-dasharray="8,8"/>
<polygon points="3396.5,894.3 3399.2,879.8 3407.4,884.3" fill="#9a32cd" stroke="#9a32cd" stroke-width="1.3"/>
<path d="M480.4,508.0 L211.2,815.5" fill="none" stroke="#9a32cd" stroke-width="1.3" stroke-dasharray="8,8"/>
<polygon points="202.0,826.0 207.7,812.4 214.8,818.6" fill="#9a32cd" stroke="#9a32cd" stroke-width="1.3"/>
<path d="M460.7,709.7 L222.0,823.4" fill="none" stroke="#9a32cd" stroke-width="1.3" stroke-dasharray="8,8"/>
<polygon points="209.4,829.4 220.0,819.1 224.1,827.6" fill="#9a32cd" stroke="#9a32cd" stroke-width="1.3"/>
<path d="M445.6,920.6 L224.0,850.8" fill="none" stroke="#9a32cd" stroke-width="1.3" stroke-dasharray="8,8"/>
<polygon points="210.6,846.6 225.4,846.3 222.5,855.3" fill="#9a32cd" stroke="#9a32cd" stroke-width="1.3"/>
<path d="M654.5,1123.3 C639.3,1119.1 623.9,1115.7 609.0,1110.7 C588.0,1103.7 567.2,1095.8 546.7,1087.4 C525.7,1078.7 504.5,1070.1 484.5,1059.4 C463.0,1048.0 442.9,1034.1 422.2,1021.2 C408.9,1013.0 395.5,1004.9 382.6,996.1 C365.2,984.3 348.3,971.7 331.1,959.5 C311.7,945.7 291.6,932.8 273.0,918.0 C253.4,902.4 235.3,884.9 216.6,868.2 C215.3,867.0 214.1,865.6 212.9,864.3" fill="none" stroke="#9a32cd" stroke-width="1.3" stroke-dasharray="8,8"/>
<polygon points="203.3,854.1 216.3,861.1 209.5,867.5" fill="#9a32cd" stroke="#9a32cd" stroke-width="1.3"/>
<path d="M1270.0,690.5 L1048.2,690.5" fill="none" stroke="#9a32cd" stroke-width="1.3" stroke-dasharray="8,8"/>
<polygon points="1034.2,690.5 1048.2,685.8 1048.2,695.2" fill="#9a32cd" stroke="#9a32cd" stroke-width="1.3"/>
<path d="M1642.3,677.9 C1614.9,679.3 1587.4,681.0 1560.0,682.2 C1518.0,684.0 1476.0,685.4 1434.0,687.0" fill="none" stroke="#9a32cd" stroke-width="1.3" stroke-dasharray="8,8"/>
<polygon points="1420.0,687.5 1433.8,682.3 1434.2,691.7" fill="#9a32cd" stroke="#9a32cd" stroke-width="1.3"/>
<path d="M890.9,868.8 C823.9,874.7 756.3,876.6 690.0,886.4 C641.3,893.6 593.8,908.6 545.6,919.7" fill="none" stroke="#9a32cd" stroke-width="1.3" stroke-dasharray="8,8"/>
<polygon points="532.0,922.9 544.6,915.2 546.7,924.3" fill="#9a32cd" stroke="#9a32cd" stroke-width="1.3"/>
<path d="M1717.8,686.0 C1713.7,715.8 1710.5,745.8 1705.6,775.5 C1698.5,818.6 1691.2,861.8 1681.7,904.4 C1675.3,933.4 1666.8,962.0 1657.9,990.4 C1650.9,1013.0 1644.5,1036.4 1634.0,1057.3 C1626.9,1071.4 1617.7,1086.3 1605.3,1095.5 C1587.5,1108.6 1565.0,1118.3 1543.3,1124.1 C1520.4,1130.2 1495.5,1130.1 1471.6,1131.3 C1458.8,1131.9 1445.9,1130.1 1433.1,1129.5" fill="none" stroke="#9a32cd" stroke-width="1.3" stroke-dasharray="8,8"/>
<polygon points="1419.1,1128.9 1433.3,1124.8 1432.9,1134.2" fill="#9a32cd" stroke="#9a32cd" stroke-width="1.3"/>
<path d="M1305.8,1027.0 C1271.5,1020.7 1237.2,1014.6 1203.0,1008.0 C1171.9,1002.0 1141.2,994.3 1110.0,989.0 C1080.7,984.0 1051.1,981.2 1021.6,977.2" fill="none" stroke="#9a32cd" stroke-width="1.3" stroke-dasharray="8,8"/>
<polygon points="1007.7,975.4 1022.2,972.6 1021.0,981.9" fill="#9a32cd" stroke="#9a32cd" stroke-width="1.3"/>
<path d="M1258.5,1042.4 L1037.0,1042.0" fill="none" stroke="#9a32cd" stroke-width="1.3" stroke-dasharray="8,8"/>
<polygon points="1023.0,1042.0 1037.0,1037.3 1037.0,1046.7" fill="#9a32cd" stroke="#9a32cd" stroke-width="1.3"/>
<path d="M1305.8,1056.7 C1266.8,1071.1 1227.8,1085.5 1188.8,1100.0 C1152.8,1113.4 1116.9,1127.1 1080.9,1140.5 C1065.1,1146.4 1049.2,1152.0 1033.4,1157.8" fill="none" stroke="#9a32cd" stroke-width="1.3" stroke-dasharray="8,8"/>
<polygon points="1020.2,1162.6 1031.7,1153.4 1035.0,1162.2" fill="#9a32cd" stroke="#9a32cd" stroke-width="1.3"/>
<path d="M1829.8,1042.8 L1446.0,1042.9" fill="none" stroke="#9a32cd" stroke-width="1.3" stroke-dasharray="8,8"/>
<polygon points="1432.0,1042.9 1446.0,1038.2 1446.0,1047.6" fill="#9a32cd" stroke="#9a32cd" stroke-width="1.3"/>
<path d="M3083.6,986.5 C3057.9,993.3 3032.4,1000.4 3006.6,1006.8 C2977.7,1014.0 2948.8,1021.5 2919.5,1027.1 C2890.7,1032.6 2861.6,1037.1 2832.4,1040.2 C2813.2,1042.2 2793.7,1042.3 2774.3,1042.5 C2716.2,1043.1 2658.1,1042.5 2600.0,1042.5 C2392.9,1042.5 2185.9,1042.5 1978.8,1042.5" fill="none" stroke="#9a32cd" stroke-width="1.3" stroke-dasharray="8,8"/>
<polygon points="1964.8,1042.5 1978.8,1037.8 1978.8,1047.2" fill="#9a32cd" stroke="#9a32cd" stroke-width="1.3"/>
<path d="M3066.2,972.5 L2824.6,974.2" fill="none" stroke="#9a32cd" stroke-width="1.3" stroke-dasharray="8,8"/>
<polygon points="2810.6,974.3 2824.6,969.5 2824.6,978.9" fill="#9a32cd" stroke="#9a32cd" stroke-width="1.3"/>
<path d="M3320.0,941.0 L3203.2,964.1" fill="none" stroke="#9a32cd" stroke-width="1.3" stroke-dasharray="8,8"/>
<polygon points="3189.5,966.8 3202.3,959.5 3204.1,968.7" fill="#9a32cd" stroke="#9a32cd" stroke-width="1.3"/>
<path d="M3115.5,986.5 C3098.6,1005.9 3083.5,1027.2 3064.7,1044.6 C3037.5,1069.8 3007.8,1092.7 2977.6,1114.3 C2949.7,1134.3 2921.0,1154.2 2890.4,1169.5 C2862.9,1183.2 2833.6,1197.8 2803.3,1201.4 C2736.8,1209.2 2667.8,1203.5 2600.0,1203.7 C2333.3,1204.4 2066.7,1204.0 1800.0,1204.0 C1700.0,1204.0 1600.0,1202.5 1500.0,1203.8 C1468.1,1204.2 1436.3,1206.7 1404.5,1209.2 C1368.5,1212.1 1332.6,1216.1 1296.7,1220.0 C1277.5,1222.1 1258.3,1224.8 1239.1,1227.2" fill="none" stroke="#9a32cd" stroke-width="1.3" stroke-dasharray="8,8"/>
<polygon points="1225.2,1228.9 1238.5,1222.5 1239.7,1231.8" fill="#9a32cd" stroke="#9a32cd" stroke-width="1.3"/>
<path d="M1339.3,1129.1 C1332.3,1144.6 1326.2,1160.6 1318.2,1175.5 C1310.2,1190.4 1301.2,1205.0 1291.3,1218.7 C1280.5,1233.7 1270.1,1250.0 1256.2,1261.8 C1240.5,1275.2 1221.4,1285.8 1202.3,1294.2 C1176.4,1305.6 1148.9,1314.6 1121.4,1321.1 C1099.5,1326.3 1076.5,1327.2 1054.0,1329.2 C1044.3,1330.1 1034.5,1329.5 1024.8,1329.6" fill="none" stroke="#9a32cd" stroke-width="1.3" stroke-dasharray="8,8"/>
<polygon points="1010.8,1329.8 1024.7,1324.9 1024.9,1334.3" fill="#9a32cd" stroke="#9a32cd" stroke-width="1.3"/>
<path d="M856.3,1074.1 C848.1,1081.2 836.9,1086.4 831.6,1095.3 C825.7,1105.2 824.8,1118.6 822.8,1130.5 C821.2,1139.8 823.8,1150.1 821.0,1158.8 C818.5,1166.6 814.1,1176.4 807.0,1180.0 C791.8,1187.6 772.0,1191.0 754.0,1192.3 C724.9,1194.5 695.2,1191.9 665.8,1190.5 C642.8,1189.4 619.9,1186.6 597.0,1184.7" fill="none" stroke="#9a32cd" stroke-width="1.3" stroke-dasharray="8,8"/>
<polygon points="583.0,1183.5 597.3,1180.0 596.6,1189.4" fill="#9a32cd" stroke="#9a32cd" stroke-width="1.3"/>
<path d="M1058.5,1247.0 C1039.0,1247.9 1019.5,1248.7 1000.0,1249.7 C986.7,1250.4 973.3,1251.4 960.0,1252.2 C826.7,1260.4 693.3,1268.7 560.0,1276.9 C556.7,1277.1 553.3,1277.3 550.0,1277.5" fill="none" stroke="#9a32cd" stroke-width="1.3" stroke-dasharray="8,8"/>
<polygon points="536.0,1278.4 549.7,1272.8 550.3,1282.2" fill="#9a32cd" stroke="#9a32cd" stroke-width="1.3"/>
<path d="M455.8,1280.9 L254.0,1280.9" fill="none" stroke="#9a32cd" stroke-width="1.3" stroke-dasharray="8,8"/>
<polygon points="240.0,1280.9 254.0,1276.2 254.0,1285.6" fill="#9a32cd" stroke="#9a32cd" stroke-width="1.3"/>
<path d="M140.9,1280.9 L58.3,1280.9" fill="none" stroke="#9a32cd" stroke-width="1.3" stroke-dasharray="8,8"/>
<polygon points="44.3,1280.9 58.3,1276.2 58.3,1285.6" fill="#9a32cd" stroke="#9a32cd" stroke-width="1.3"/>
<path d="M856.3,1324.6 C816.3,1322.8 776.3,1321.8 736.4,1319.3 C701.1,1317.1 665.7,1313.9 630.5,1310.4 C606.9,1308.0 583.4,1305.1 560.0,1301.6 C556.3,1301.0 552.9,1299.4 549.3,1298.2" fill="none" stroke="#9a32cd" stroke-width="1.3" stroke-dasharray="8,8"/>
<polygon points="536.0,1294.0 550.8,1293.7 547.9,1302.7" fill="#9a32cd" stroke="#9a32cd" stroke-width="1.3"/>
<path d="M893.3,1225.8 C882.1,1237.5 870.1,1248.6 859.8,1261.0 C849.6,1273.3 838.3,1285.7 831.6,1299.9 C826.0,1311.6 827.7,1326.7 822.8,1338.7 C819.5,1346.7 814.2,1355.3 807.0,1359.8 C791.3,1369.4 772.5,1377.5 754.0,1381.0 C725.4,1386.4 695.2,1386.1 665.8,1386.3 C642.9,1386.4 619.9,1383.4 597.0,1381.9" fill="none" stroke="#9a32cd" stroke-width="1.3" stroke-dasharray="8,8"/>
<polygon points="583.0,1381.0 597.3,1377.2 596.7,1386.6" fill="#9a32cd" stroke="#9a32cd" stroke-width="1.3"/>
<path d="M409.0,1355.8 L258.4,1349.9" fill="none" stroke="#9a32cd" stroke-width="1.3" stroke-dasharray="8,8"/>
<polygon points="244.4,1349.4 258.6,1345.2 258.2,1354.6" fill="#9a32cd" stroke="#9a32cd" stroke-width="1.3"/>
<path d="M409.0,1371.0 L266.5,1389.5" fill="none" stroke="#9a32cd" stroke-width="1.3" stroke-dasharray="8,8"/>
<polygon points="252.6,1391.3 265.9,1384.8 267.1,1394.2" fill="#9a32cd" stroke="#9a32cd" stroke-width="1.3"/>
<text x="713.0" y="52.5" text-anchor="middle">&lt; Object, ObjectBase,</text>
<text x="712.0" y="70.5" text-anchor="middle">ObjectDeleter &gt;</text>
<text x="713.0" y="126.5" text-anchor="middle">&lt; Packet &gt;</text>
<text x="713.0" y="268.1" text-anchor="middle">&lt; ns3::NixVector &gt;</text>
<text x="1143.7" y="118.8" text-anchor="middle">m_tid</text>
<text x="1143.7" y="234.5" text-anchor="middle">m_nixVector</text>
<text x="1143.7" y="290.5" text-anchor="middle">m_metadata</text>
<text x="1143.7" y="331.5" text-anchor="middle">m_byteTagList</text>
<text x="1143.7" y="354.5" text-anchor="middle">m_packetTagList</text>
<text x="1539.8" y="258.5" text-anchor="middle">buffer</text>
<text x="1539.8" y="307.0" text-anchor="middle">m_aggregates</text>
<text x="1539.8" y="368.1" text-anchor="middle">m_ptr</text>
<text x="1143.7" y="436.5" text-anchor="middle">&lt; const Packet &gt;</text>
<text x="2301.9" y="430.5" text-anchor="middle">m_cid</text>
<text x="1899.3" y="447.0" text-anchor="middle">elements</text>
<text x="2301.9" y="469.1" text-anchor="middle">m_fragmentsQueue</text>
<text x="2301.9" y="509.0" text-anchor="middle">m_queue</text>
<text x="2615.7" y="500.1" text-anchor="middle">m_ptr</text>
<text x="1899.3" y="643.0" text-anchor="middle">m_ptr</text>
<text x="2771.7" y="462.5" text-anchor="middle">m_serviceFlow</text>
<text x="2977.0" y="718.9" text-anchor="middle">m_connection</text>
<text x="3541.9" y="560.2" text-anchor="middle">m_serviceFlows</text>
<text x="329.0" y="615.1" text-anchor="middle">m_ptr</text>
<text x="329.0" y="748.5" text-anchor="middle">elements</text>
<text x="329.0" y="864.0" text-anchor="middle">elements</text>
<text x="329.0" y="914.8" text-anchor="middle">elements</text>
<text x="713.0" y="868.4" text-anchor="middle">g_freeList</text>
<text x="1346.6" y="488.0" text-anchor="middle">&lt; ns3::WimaxMacQueue &gt;</text>
<text x="1719.6" y="543.2" text-anchor="middle">&lt; ns3::WimaxConnection &gt;</text>
<text x="1346.6" y="586.5" text-anchor="middle">&lt; Ptr&lt; const Packet &gt; &gt;</text>
<text x="1142.0" y="684.5" text-anchor="middle">m_callbackList</text>
<text x="1142.0" y="708.3" text-anchor="middle">&lt; ns3::Ptr&lt; const ns3</text>
<text x="1142.0" y="725.0" text-anchor="middle">::Packet &gt; &gt;</text>
<text x="1142.0" y="788.1" text-anchor="middle">m_buffer</text>
<text x="1539.8" y="639.8" text-anchor="middle">m_traceEnqueue</text>
<text x="1538.9" y="657.0" text-anchor="middle">m_traceDrop</text>
<text x="1538.9" y="674.7" text-anchor="middle">m_traceDequeue</text>
<text x="713.0" y="949.3" text-anchor="middle">&lt; uint8_t &gt;</text>
<text x="714.0" y="983.8" text-anchor="middle">&lt; struct ns3::IpcsClassifier</text>
<text x="710.5" y="1001.1" text-anchor="middle">Record::PortRange &gt;</text>
<text x="714.0" y="1057.2" text-anchor="middle">&lt; struct ns3::IpcsClassifier</text>
<text x="711.5" y="1074.5" text-anchor="middle">Record::ipv4Addr &gt;</text>
<text x="713.0" y="1169.1" text-anchor="middle">elements</text>
<text x="935.2" y="1116.9" text-anchor="middle">&lt; QueueElement &gt;</text>
<text x="713.0" y="1220.8" text-anchor="middle">m_lastGrantTime</text>
<text x="711.5" y="1239.0" text-anchor="middle">m_grantTimeStamp</text>
<text x="711.5" y="1255.8" text-anchor="middle">m_dlTimeStamp</text>
<text x="328.6" y="1276.0" text-anchor="middle">g_markingTimes</text>
<text x="87.7" y="1276.0" text-anchor="middle">keys</text>
<text x="713.0" y="1305.1" text-anchor="middle">m_timeStamp</text>
<text x="713.0" y="1341.1" text-anchor="middle">elements</text>
<text x="328.6" y="1343.5" text-anchor="middle">Mask</text>
<text x="328.6" y="1370.8" text-anchor="middle">Address</text>
<text x="1142.7" y="973.0" text-anchor="middle">m_protocol</text>
<text x="1142.7" y="1018.8" text-anchor="middle">m_dstPortRange</text>
<text x="1140.7" y="1036.1" text-anchor="middle">m_srcPortRange</text>
<text x="1142.7" y="1063.5" text-anchor="middle">m_dstAddr</text>
<text x="1140.7" y="1080.9" text-anchor="middle">m_srcAddr</text>
<text x="1540.0" y="1036.5" text-anchor="middle">m_packetClassifierRule</text>
<text x="1540.0" y="1083.9" text-anchor="middle">m_queue</text>
<text x="1143.0" y="1280.0" text-anchor="middle">elements</text>
<text x="2103.8" y="913.0" text-anchor="middle">&lt; ns3::ServiceFlow * &gt;</text>
<text x="2479.2" y="1037.2" text-anchor="middle">m_convergenceSublayerParam</text>
<text x="2103.8" y="1198.8" text-anchor="middle">m_record</text>
<text x="2977.7" y="966.8" text-anchor="middle">m_serviceClassName</text>
<text x="3244.0" y="948.5" text-anchor="middle">elements</text>
<text x="617.4" y="634.8">&lt; Callback&lt; void, ns3</text>
<text x="613.4" y="652.1">::Ptr&lt; const ns3::Packet</text>
<text x="617.4" y="669.3">&gt;, empty, empty, empty,</text>
<text x="617.4" y="687.1">empty, empty, empty, empty &gt; &gt;</text>
</svg></body></html>
